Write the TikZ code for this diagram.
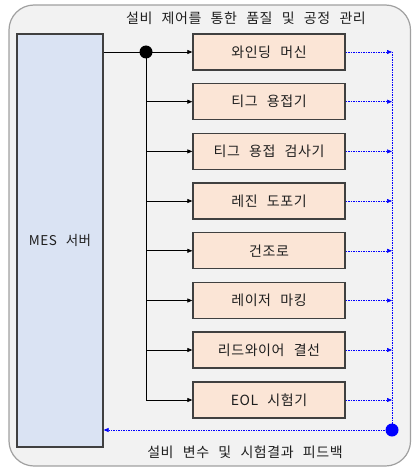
\documentclass[tikz,border=0pt]{standalone}
\usepackage{fontspec}
\setmainfont{Noto Sans CJK KR}[LetterSpace=4,WordSpace=2.5]
\usetikzlibrary{arrows.meta,calc}
\definecolor{outerfill}{HTML}{F2F2F2}
\definecolor{outerdraw}{HTML}{A0A0A0}
\definecolor{mesfill}{HTML}{DAE3F3}
\definecolor{boxfill}{HTML}{FBE5D6}
\definecolor{boxdraw}{HTML}{404040}
\definecolor{fbblue}{HTML}{0000FF}
\tikzset{
  eqbox/.style={draw=boxdraw,fill=boxfill,line width=1.3pt,minimum width=152pt,minimum height=36pt,inner sep=0pt,font=\fontsize{14}{16}\selectfont,text=black!88},
  feed/.style={draw=black,line width=0.7pt,-{Triangle[length=5pt,width=4pt]}},
  back/.style={draw=fbblue,line width=0.6pt,dash pattern=on 1.5pt off 1pt,-{Triangle[length=5pt,width=4pt]}},
  lbl/.style={font=\fontsize{14}{16}\selectfont,text=black!88}
}
\begin{document}
\begin{tikzpicture}[x=1pt,y=-1pt]
\useasboundingbox (0,0) rectangle (412,468);
\draw[draw=outerdraw,fill=outerfill,line width=1.2pt,rounded corners=25pt] (9,5) rectangle (410.5,466);
\node[lbl] (title) at (246,18) {설비 제어를 통한 품질 및 공정 관리};
\node[lbl] (bottom) at (245,452) {설비 변수 및 시험결과 피드백};
\node[draw=boxdraw,fill=mesfill,line width=1.3pt,minimum width=86pt,minimum height=413pt,inner sep=0pt,font=\fontsize{13.5}{15}\selectfont,text=black!88] (mes) at (60,240.5) {MES 서버};
\node[eqbox] (b1) at (269,52) {와인딩 머신};
\node[eqbox] (b2) at (269,101.7) {티그 용접기};
\node[eqbox] (b3) at (269,151.4) {티그 용접 검사기};
\node[eqbox] (b4) at (269,201) {레진 도포기};
\node[eqbox] (b5) at (269,250.8) {건조로};
\node[eqbox] (b6) at (269,300.5) {레이저 마킹};
\node[eqbox] (b7) at (269,350) {리드와이어 결선};
\node[eqbox] (b8) at (269,400) {EOL 시험기};
\coordinate (dot) at (146,52);
\coordinate (fb) at (392,430);
\draw[line width=0.7pt] (dot -| mes.east) -- (dot);
\draw[line width=0.7pt] (dot) -- (dot |- b8.west);
\draw[feed] (dot) -- (b1.west);
\foreach \b in {b2,b3,b4,b5,b6,b7,b8}{
  \draw[feed] (dot |- \b.west) -- (\b.west);
}
\fill (dot) circle (6.5pt);
\draw[draw=fbblue,line width=0.6pt,dash pattern=on 1.5pt off 1pt] (fb |- b1.east) -- (fb);
\foreach \b in {b1,b2,b3,b4,b5,b6,b7,b8}{
  \draw[back] (\b.east) -- (\b.east -| fb);
}
\draw[back] (fb) -- (fb -| mes.east);
\fill[fbblue] (fb) circle (6.5pt);
\end{tikzpicture}
\end{document}
